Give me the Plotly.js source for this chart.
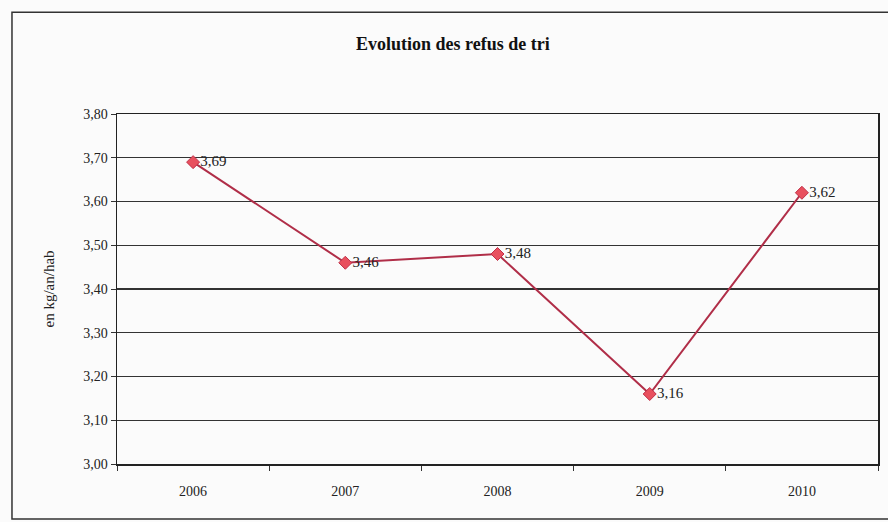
<!DOCTYPE html>
<html>
<head>
<meta charset="utf-8">
<script src="https://cdn.plot.ly/plotly-3.0.1.min.js"></script>
<style>html,body{margin:0;padding:0;background:#fbfbfb;}#chart{width:888px;height:522px;}</style>
</head>
<body>
<div id="chart"></div>
<script>
const years = ["2006", "2007", "2008", "2009", "2010"];
const values = [3.69, 3.46, 3.48, 3.16, 3.62];
const valueLabels = ["3,69", "3,46", "3,48", "3,16", "3,62"];
const yTicks = [3.0, 3.1, 3.2, 3.3, 3.4, 3.5, 3.6, 3.7, 3.8];

const serif = "Liberation Serif, Times New Roman, serif";

const trace = {
  x: years,
  y: values,
  type: "scatter",
  mode: "lines+markers+text",
  text: valueLabels,
  textposition: "middle right",
  textfont: {family: serif, size: 15, color: "#222"},
  line: {color: "#b02e48", width: 2},
  marker: {symbol: "diamond", size: 10, color: "#e8505e", line: {color: "#c03048", width: 1}},
  cliponaxis: false,
  hoverinfo: "skip"
};

const layout = {
  width: 888,
  height: 522,
  separators: ", ",
  paper_bgcolor: "#fbfbfb",
  plot_bgcolor: "#fbfbfb",
  margin: {l: 117, r: 10, t: 114, b: 58},
  showlegend: false,
  title: {
    text: "<b>Evolution des refus de tri</b>",
    font: {family: serif, size: 18, color: "#111"},
    x: 0.51, xanchor: "center",
    y: 0.916, yanchor: "middle"
  },
  xaxis: {
    type: "category",
    range: [-0.5, 4.5],
    tickson: "boundaries",
    ticks: "outside",
    ticklen: 5,
    tickcolor: "#333",
    showgrid: false,
    showline: true,
    linecolor: "#222",
    linewidth: 1.5,
    mirror: true,
    tickfont: {family: serif, size: 14, color: "#222"},
    ticklabelstandoff: 14
  },
  yaxis: {
    range: [3.0, 3.8],
    tickvals: yTicks,
    tickformat: ".2f",
    ticks: "outside",
    ticklen: 5,
    tickcolor: "#333",
    showgrid: true,
    gridcolor: "#333333",
    gridwidth: 1.3,
    showline: true,
    linecolor: "#222",
    linewidth: 1.5,
    mirror: true,
    zeroline: false,
    tickfont: {family: serif, size: 14, color: "#222"}
  },
  annotations: [{
    text: "en kg/an/hab",
    xref: "paper", yref: "paper",
    x: -0.09, y: 0.5,
    xanchor: "center", yanchor: "middle",
    textangle: -90,
    showarrow: false,
    font: {family: serif, size: 15, color: "#222"}
  }],
  shapes: [{
    type: "rect",
    xref: "paper", yref: "paper",
    x0: -0.138, x1: 1.025,
    y0: -0.157, y1: 1.291,
    line: {color: "#333", width: 1.5},
    fillcolor: "rgba(0,0,0,0)",
    layer: "below"
  }]
};

Plotly.newPlot("chart", [trace], layout, {displayModeBar: false, staticPlot: true});
</script>
</body>
</html>
